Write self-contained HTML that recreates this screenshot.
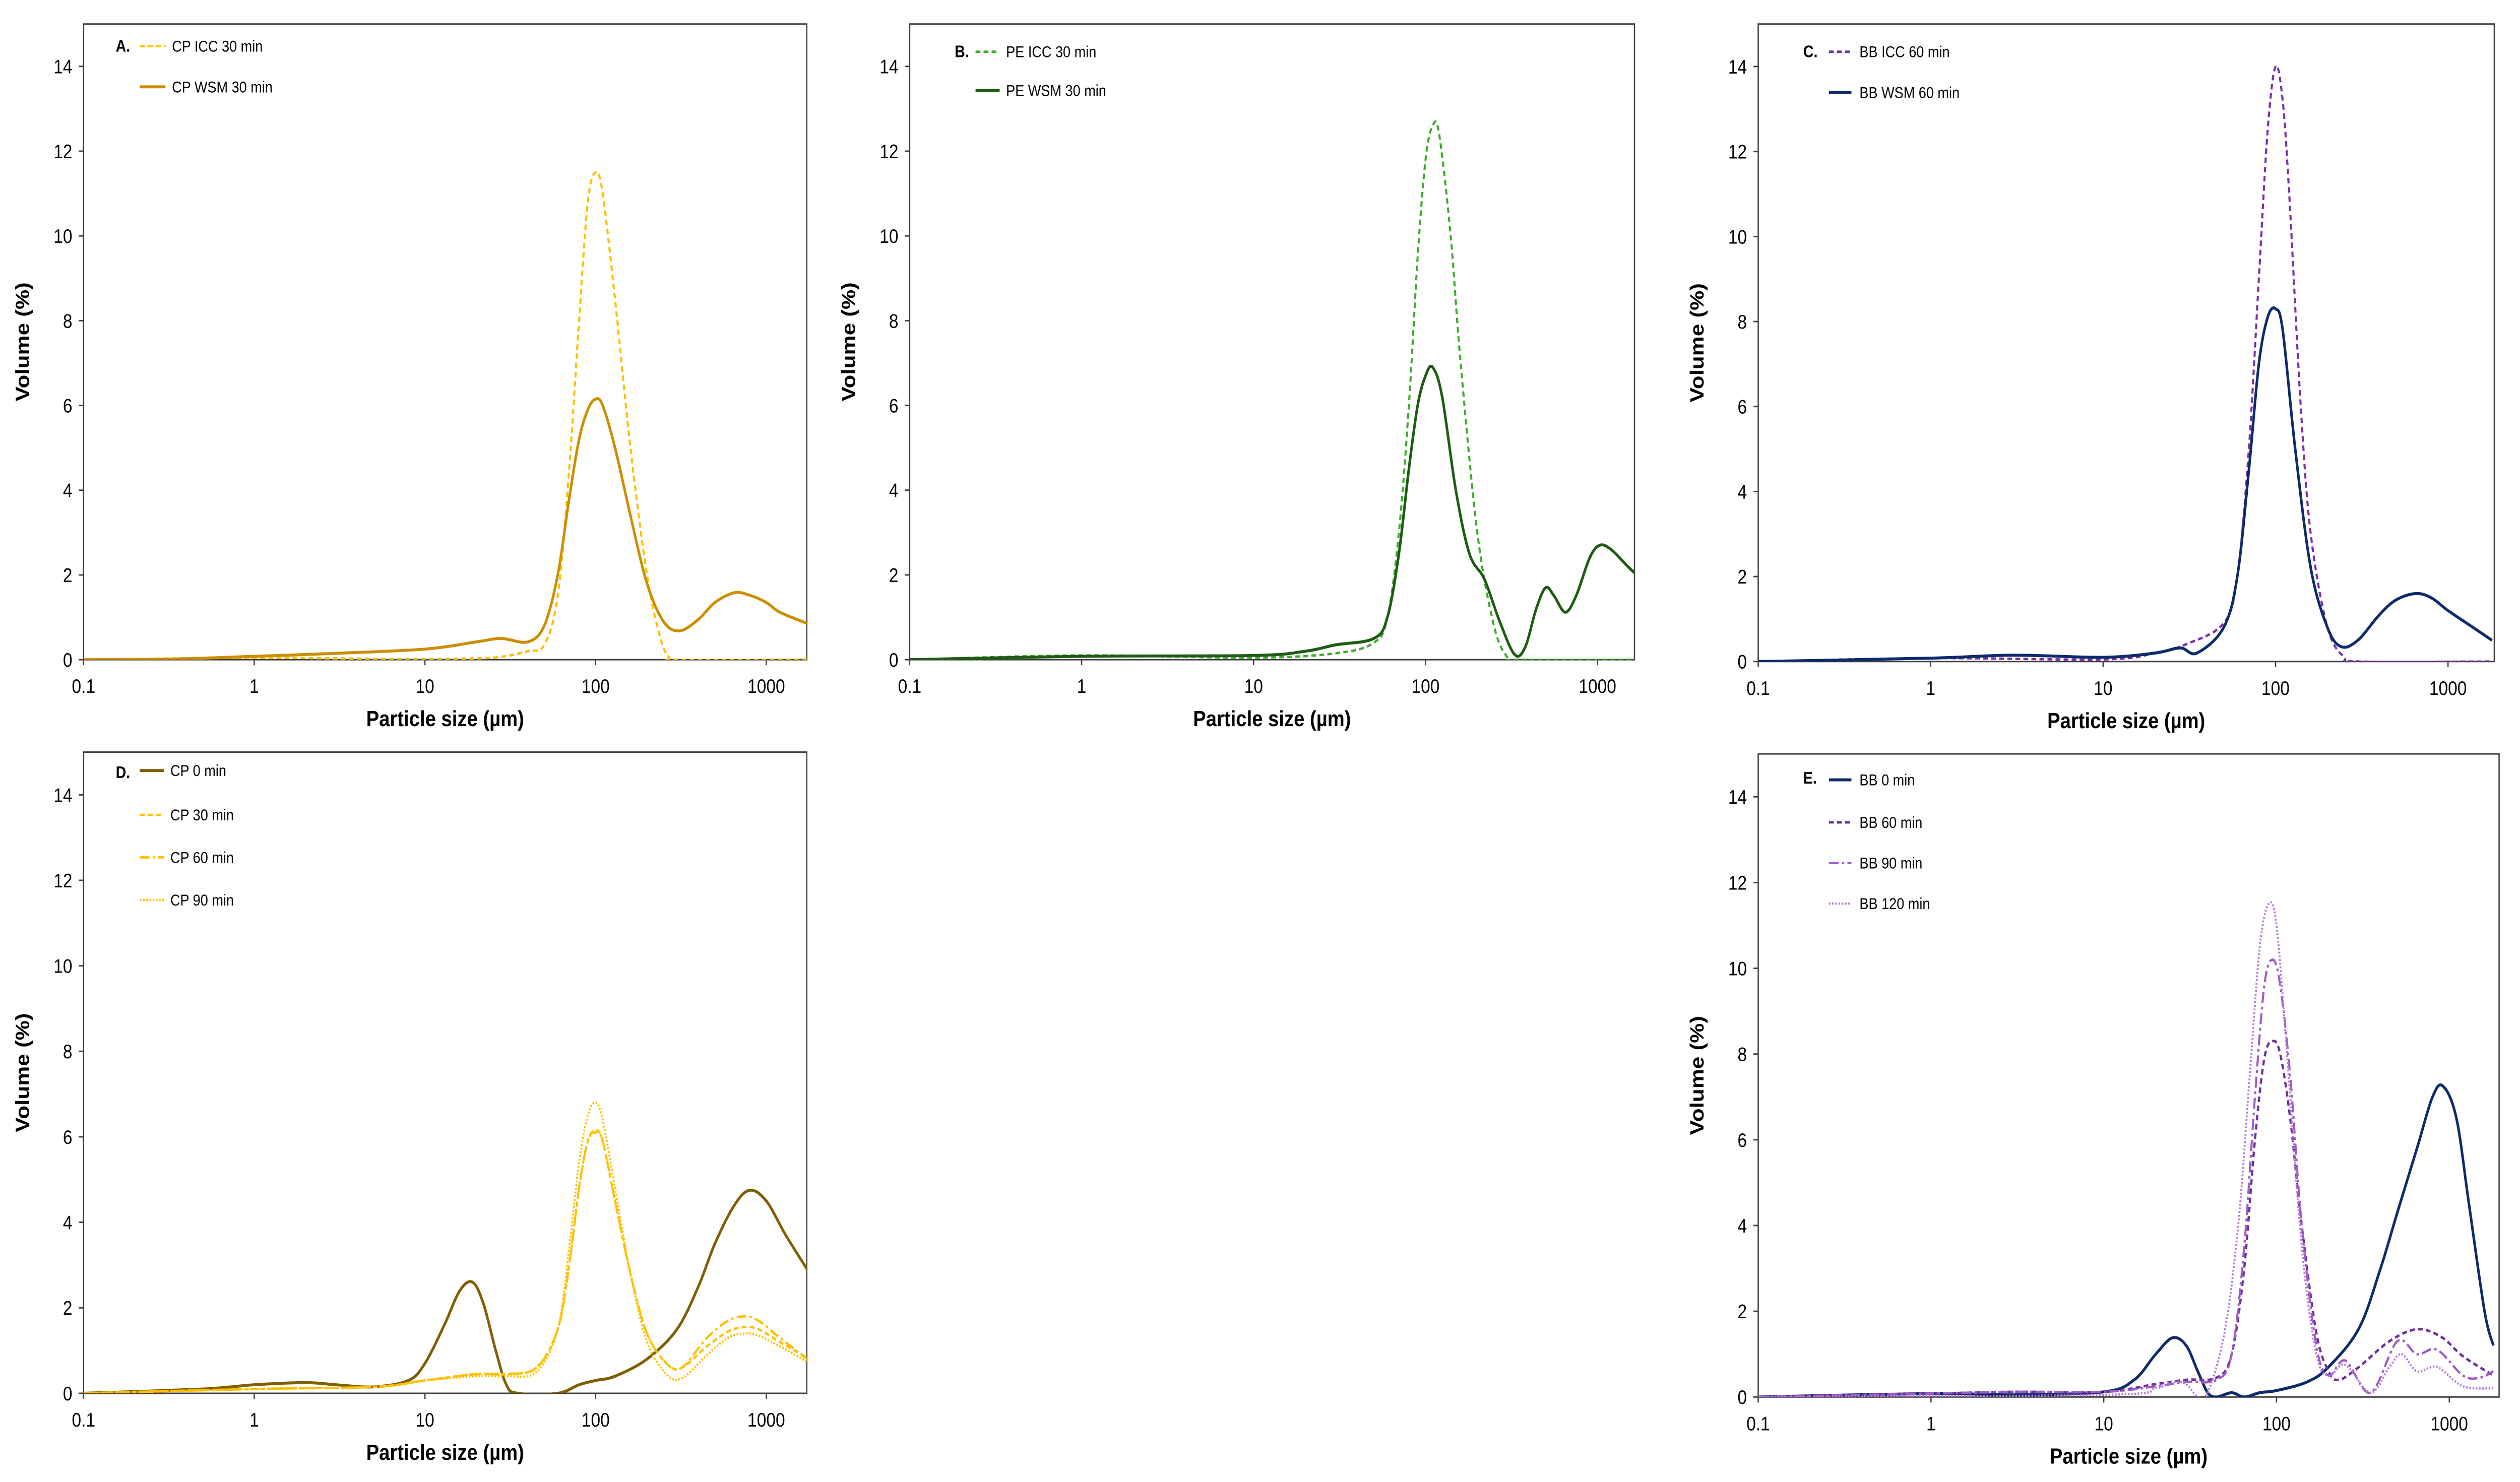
<!DOCTYPE html>
<html><head><meta charset="utf-8"><style>
html,body{margin:0;padding:0;background:#fff;overflow:hidden;width:100%;height:100%;}
svg{display:block;width:100vw;height:100vh;}
text{font-family:"Liberation Sans",sans-serif;fill:#000;}
</style></head><body>
<svg id="chart" viewBox="0 0 1568 802" preserveAspectRatio="none" xmlns="http://www.w3.org/2000/svg"></svg>
<script>
// ---- data (size in µm, volume %) ----
const aIccSize=[0.1,1,3,10,25,40,50,60,70,80,90,100,110,130,160,200,240,270,300,1800];
const aIccVal=[0,0.05,0.03,0.02,0.05,0.2,0.35,1.5,4.5,8,10.8,11.5,11.0,8.5,5,2,0.5,0.05,0,0];
const aWsmSize=[0.1,0.3,1,3,10,20,28,40,50,60,70,80,90,100,110,130,160,200,250,310,400,500,650,800,1000,1200,1750];
const aWsmVal=[0,0.01,0.08,0.15,0.25,0.42,0.5,0.42,0.8,2,3.8,5.2,5.9,6.15,6.0,5.0,3.4,1.8,0.9,0.68,0.95,1.35,1.58,1.52,1.35,1.12,0.85];

const bIccSize=[0.1,1,10,30,50,60,70,80,90,100,110,120,140,160,200,250,300,350,1800];
const bIccVal=[0,0.1,0.05,0.15,0.4,1,3,6,9.5,11.8,12.6,12.4,10,7,3,0.8,0.05,0,0];
const bWsmSize=[0.1,1,10,20,30,50,60,70,80,90,100,110,125,150,180,220,270,330,380,440,500,560,650,750,900,1030,1200,1500,1800];
const bWsmVal=[0,0.08,0.1,0.2,0.35,0.5,1.0,2.5,4.5,6,6.7,6.9,6.2,4,2.5,1.9,0.9,0.12,0.3,1.2,1.7,1.5,1.12,1.5,2.4,2.7,2.6,2.2,1.9];

const cIccSize=[0.1,1,10,20,30,50,60,70,80,90,100,110,120,140,160,200,250,300,1800];
const cIccVal=[0,0.08,0.05,0.2,0.4,0.9,2,5,9,12.5,14,13.2,11,6,3,0.8,0.1,0,0];
const cWsmSize=[0.1,1,3,10,20,28,35,50,60,70,80,90,100,110,130,160,200,240,300,400,500,650,800,1000,1400,1800];
const cWsmVal=[0,0.08,0.15,0.1,0.2,0.32,0.2,0.8,2,4.5,7,8.1,8.3,7.8,5,2.2,0.8,0.35,0.5,1.1,1.45,1.6,1.5,1.2,0.8,0.5];

const d0Size=[0.1,0.5,1,2,3,5,8,10,13,16,19,22,26,30,35,60,80,100,130,200,300,400,500,650,800,1000,1300,1800];
const d0Val=[0,0.1,0.2,0.25,0.2,0.15,0.3,0.7,1.6,2.4,2.6,2.1,1.0,0.2,0,0,0.2,0.3,0.4,0.8,1.5,2.5,3.5,4.4,4.75,4.5,3.7,2.8];
const dSize=[0.1,1,5,10,20,30,45,60,70,80,90,100,110,130,160,200,260,320,450,600,750,900,1200,1800];
const d30Val=[0,0.1,0.15,0.3,0.45,0.45,0.6,1.5,3,4.8,5.9,6.15,5.9,4.5,2.8,1.4,0.7,0.6,1.1,1.45,1.55,1.5,1.2,0.8];
const d60Val=[0,0.1,0.15,0.3,0.45,0.45,0.6,1.5,3,4.8,5.9,6.1,5.9,4.5,2.8,1.4,0.7,0.6,1.3,1.7,1.8,1.7,1.3,0.75];
const d90Val=[0,0.1,0.15,0.3,0.4,0.4,0.5,1.5,3.4,5.4,6.5,6.8,6.4,4.8,2.8,1.2,0.45,0.35,0.9,1.3,1.4,1.35,1.1,0.7];

const e0Size=[0.1,1,3,10,15,20,25,30,35,40,45,55,65,80,100,150,200,300,400,500,650,800,920,1100,1300,1600,1800];
const e0Val=[0,0.08,0.05,0.12,0.4,1.0,1.38,1.2,0.6,0.1,0,0.1,0,0.1,0.15,0.35,0.7,1.6,3.0,4.3,5.8,7.0,7.25,6.5,4.5,2.0,1.2];
const e60Size=[0.1,1,3,10,20,30,45,55,65,75,85,95,105,120,140,170,200,230,300,450,650,900,1200,1800];
const e60Val=[0,0.08,0.12,0.12,0.3,0.4,0.45,1.0,3,6,7.9,8.3,8.0,6.5,4,1.5,0.6,0.4,0.7,1.3,1.58,1.4,0.95,0.5];
const e90Size=[0.1,1,3,10,20,30,45,55,65,75,85,95,105,120,140,170,200,250,350,500,650,850,1200,1500,1800];
const e90Val=[0,0.08,0.12,0.12,0.25,0.35,0.4,1.0,3.5,7,9.6,10.2,9.6,7.5,4,1.2,0.5,0.85,0.1,1.3,1.0,1.1,0.5,0.45,0.6];
const e120Size=[0.1,10,20,25,30,35,40,50,60,70,80,90,100,115,140,170,200,250,350,450,530,650,850,1200,1800];
const e120Val=[0,0.05,0.2,0.35,0.3,0,0.1,1.5,4,7.5,10.5,11.5,11,8,3.5,1,0.5,0.75,0.1,0.7,1.0,0.6,0.7,0.25,0.2];

const xTickVals=[0.1,1,10,100,1000];
const xTickLabels=["0.1","1","10","100","1000"];
const yTickVals=[0,2,4,6,8,10,12,14];

const NS="http://www.w3.org/2000/svg";
const svg=document.getElementById('chart');
function mk(tag,attrs,parent){const e=document.createElementNS(NS,tag);for(const k in attrs)e.setAttribute(k,attrs[k]);(parent||svg).appendChild(e);return e;}

const panels=[
 {id:'a',label:'A.',left:52,right:502,top:13,bottom:357,dec:106.2,
  series:[{s:aIccSize,v:aIccVal,c:'#FFC000',d:'3,2',n:'CP ICC 30 min',w:1.3},{s:aWsmSize,v:aWsmVal,c:'#CC8E00',d:'',n:'CP WSM 30 min',w:1.6}],
  leg:{lx:72,ly:25,x1:87,x2:103,tx:107,ys:[25,47]}},
 {id:'b',label:'B.',left:566,right:1017,top:13,bottom:357,dec:107,
  series:[{s:bIccSize,v:bIccVal,c:'#3DAE2B',d:'3,2',n:'PE ICC 30 min',w:1.3},{s:bWsmSize,v:bWsmVal,c:'#1E5C14',d:'',n:'PE WSM 30 min',w:1.6}],
  leg:{lx:594,ly:28,x1:607,x2:622,tx:626,ys:[28,49]}},
 {id:'c',label:'C.',left:1094,right:1552,top:13,bottom:358,dec:107.3,
  series:[{s:cIccSize,v:cIccVal,c:'#7B2FA8',d:'3,2',n:'BB ICC 60 min',w:1.3},{s:cWsmSize,v:cWsmVal,c:'#0D2A6B',d:'',n:'BB WSM 60 min',w:1.6}],
  leg:{lx:1122,ly:28,x1:1138,x2:1152,tx:1157,ys:[28,50]}},
 {id:'d',label:'D.',left:52,right:502,top:407,bottom:754,dec:106.2,
  series:[{s:d0Size,v:d0Val,c:'#7F5F00',d:'',n:'CP 0 min',w:1.6},{s:dSize,v:d30Val,c:'#FFC000',d:'3,2',n:'CP 30 min',w:1.3},{s:dSize,v:d60Val,c:'#FFC000',d:'6,2,1.5,2',n:'CP 60 min',w:1.3},{s:dSize,v:d90Val,c:'#FFC000',d:'1,1',n:'CP 90 min',w:1.2}],
  leg:{lx:72,ly:418,x1:87,x2:102,tx:106,ys:[417,441,464,487]}},
 {id:'e',label:'E.',left:1094,right:1555,top:408,bottom:756,dec:107.5,
  series:[{s:e0Size,v:e0Val,c:'#0D2A6B',d:'',n:'BB 0 min',w:1.6},{s:e60Size,v:e60Val,c:'#7030A0',d:'3,2',n:'BB 60 min',w:1.4},{s:e90Size,v:e90Val,c:'#9E5CC8',d:'6,2,1.5,2',n:'BB 90 min',w:1.3},{s:e120Size,v:e120Val,c:'#B57ADB',d:'1,1',n:'BB 120 min',w:1.2}],
  leg:{lx:1122,ly:421,x1:1138,x2:1152,tx:1157,ys:[422,445,467,489]}}
];

function smoothPath(pts){
  let d='M'+pts[0][0].toFixed(2)+','+pts[0][1].toFixed(2);
  for(let i=0;i<pts.length-1;i++){
    const p0=pts[i-1]||pts[i],p1=pts[i],p2=pts[i+1],p3=pts[i+2]||p2;
    const t=6;
    const c1=[p1[0]+(p2[0]-p0[0])/t,p1[1]+(p2[1]-p0[1])/t];
    const c2=[p2[0]-(p3[0]-p1[0])/t,p2[1]-(p3[1]-p1[1])/t];
    d+=' C'+c1[0].toFixed(2)+','+c1[1].toFixed(2)+' '+c2[0].toFixed(2)+','+c2[1].toFixed(2)+' '+p2[0].toFixed(2)+','+p2[1].toFixed(2);
  }
  return d;
}

panels.forEach(p=>{
  const g=mk('g',{});
  
  
  const xs=v=>p.left+(Math.log10(v)+1)*p.dec;
  const ys=v=>p.bottom-v*(p.bottom-p.top)/15;
  const clip=mk('clipPath',{id:'clip-'+p.id},g);
  mk('rect',{x:p.left,y:p.top,width:p.right-p.left,height:p.bottom-p.top},clip);
  const box=mk('rect',{x:p.left,y:p.top,width:p.right-p.left,height:p.bottom-p.top,fill:'none',stroke:'#404040','stroke-width':0.8},g);
  
  
  yTickVals.forEach(v=>{
    mk('line',{x1:p.left-3,x2:p.left,y1:ys(v),y2:ys(v),stroke:'#404040','stroke-width':0.8},g);
    const t=mk('text',{x:p.left-7,y:ys(v)+3.8,'font-size':10.5,'text-anchor':'end'},g);
    t.textContent=v;
    
    
  });
  xTickVals.forEach((v,i)=>{
    mk('line',{x1:xs(v),x2:xs(v),y1:p.bottom,y2:p.bottom+3,stroke:'#404040','stroke-width':0.8},g);
    const t=mk('text',{x:xs(v),y:p.bottom+18,'font-size':10.5,'text-anchor':'middle'},g);
    t.textContent=xTickLabels[i];
    
    
  });
  const yt=mk('text',{x:0,y:0,'font-size':12,'font-weight':'bold','text-anchor':'middle',transform:'translate('+(p.left-34)+','+((p.top+p.bottom)/2)+') rotate(-90)'},g);
  yt.textContent='Volume (%)';
  
  
  const xt=mk('text',{x:(p.left+p.right)/2,y:p.bottom+36,'font-size':12,'font-weight':'bold','text-anchor':'middle'},g);
  xt.textContent='Particle size (µm)';
  
  
  const lab=mk('text',{x:p.leg.lx,y:p.leg.ly+3,'font-size':9,'font-weight':'bold'},g);
  lab.textContent=p.label;
  
  
  p.series.forEach((s,i)=>{
    const pts=s.s.map((sz,j)=>[xs(sz),ys(s.v[j])]);
    const path=mk('path',{d:smoothPath(pts),fill:'none',stroke:s.c,'stroke-width':s.w,'stroke-dasharray':s.d||'none','clip-path':'url(#clip-'+p.id+')'},g);
    
    
    const ly=p.leg.ys[i];
    const ll=mk('line',{x1:p.leg.x1,x2:p.leg.x2,y1:ly,y2:ly,stroke:s.c,'stroke-width':s.w,'stroke-dasharray':s.d||'none'},g);
    
    
    const lt=mk('text',{x:p.leg.tx,y:ly+3,'font-size':8.5},g);
    lt.textContent=s.n;
    
    
  });
});
</script>
</body></html>
